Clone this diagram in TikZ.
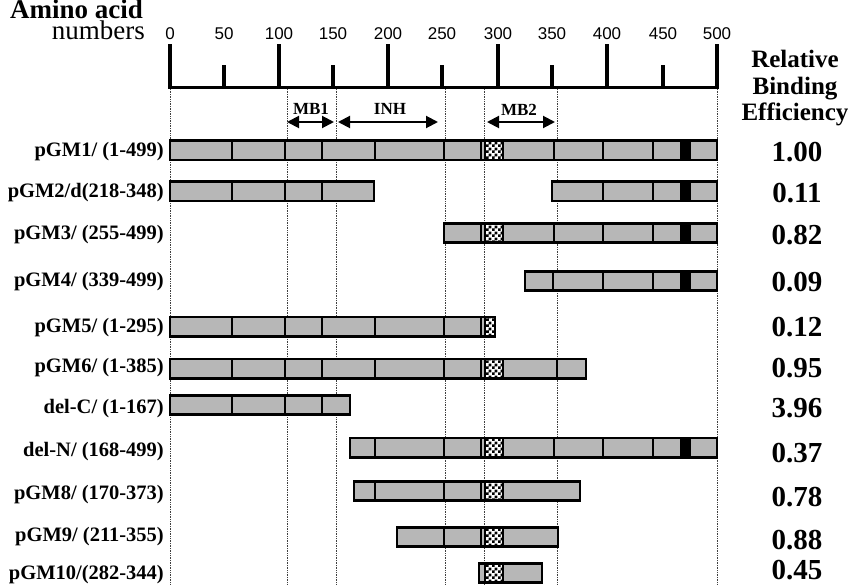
\documentclass[tikz,border=0pt]{standalone}
\usepackage{fontspec}
\setmainfont{Liberation Serif}
\setsansfont{Liberation Sans}
\usetikzlibrary{patterns,arrows.meta}
\definecolor{barfill}{RGB}{183,183,183}
\pgfdeclarepatternformonly{bigchecker}{\pgfpointorigin}{\pgfqpoint{6pt}{6pt}}{\pgfqpoint{6pt}{6pt}}{%
  \pgfpathrectangle{\pgfpointorigin}{\pgfqpoint{3.05pt}{3.05pt}}%
  \pgfpathrectangle{\pgfqpoint{3pt}{3pt}}{\pgfqpoint{3.05pt}{3.05pt}}%
  \pgfusepath{fill}}
\newcommand{\mybar}[3]{\fill[barfill] (#2,#1-9.7) rectangle (#3,#1+9.7);}
\newcommand{\myout}[3]{\draw[barline] (#2,#1-9.7) rectangle (#3,#1+9.7);}
\newcommand{\mydiv}[2]{\foreach \xx in {#2}{\draw[divline] (\xx,#1-9.7) -- (\xx,#1+9.7);}}
\newcommand{\mychk}[3]{\fill[white] (#2,#1-9.7) rectangle (#3,#1+9.7);
  \fill[pattern=bigchecker] (#2,#1-9.7) rectangle (#3,#1+9.7);
  \draw[divline] (#2,#1-9.7) -- (#2,#1+9.7);
  \draw[divline] (#3,#1-9.7) -- (#3,#1+9.7);}
\newcommand{\myblk}[3]{\fill[black] (#2,#1-9.7) rectangle (#3,#1+9.7);}
\begin{document}
\begin{tikzpicture}[x=1pt,y=-1pt,
  axisline/.style={line width=3pt},
  tickline/.style={line width=3.2pt},
  dotline/.style={densely dotted, line width=0.7pt, black!75},
  barline/.style={line width=2.6pt, draw=black},
  divline/.style={line width=1.9pt, draw=black},
  domarrow/.style={line width=2pt, {Triangle[length=12pt,width=12pt]}-{Triangle[length=12pt,width=12pt]}},
  domlbl/.style={anchor=base, inner sep=0, font=\bfseries\fontsize{17}{17}\selectfont},
  axnum/.style={anchor=base, inner sep=0, font=\sffamily\fontsize{17}{17}\selectfont},
  lbl/.style={anchor=east, inner sep=0, font=\bfseries\fontsize{20.5}{20.5}\selectfont},
  val/.style={anchor=center, inner sep=0, font=\bfseries\fontsize{29}{29}\selectfont},
  head/.style={anchor=base, inner sep=0, font=\bfseries\fontsize{25}{25}\selectfont}]
\useasboundingbox (0,0) rectangle (850,585);
\fill[white] (0,0) rectangle (850,585);

% header texts
\node[anchor=base east, inner sep=0, font=\bfseries\fontsize{27}{27}\selectfont] (hamino) at (143,18.5) {Amino acid};
\node[anchor=base east, inner sep=0, font=\fontsize{27}{27}\selectfont] (hnum) at (145,40) {numbers};
\node[head] (hrel) at (795,68) {Relative};
\node[head] (hbind) at (795,95) {Binding};
\node[head] (heff) at (795,121) {Efficiency};

% dotted guide lines
\foreach \gx in {170,287,336,445,484,557,717}{\draw[dotline] (\gx,89) -- (\gx,585);}

% axis
\coordinate (ax0) at (170,88);
\coordinate (ax1) at (717,88);
\draw[axisline] (ax0) -- (ax1);
\foreach \tx/\tl in {170/0,279/100,388/200,498/300,607/400,717/500}{
  \draw[tickline] (\tx,89) -- (\tx,44);
  \node[axnum] at (\tx,40) {\tl};}
\foreach \tx/\tl in {224/50,333/150,442/250,552/350,663/450}{
  \draw[tickline] (\tx,89) -- (\tx,65);
  \node[axnum] at (\tx,40) {\tl};}

% domain arrows
\coordinate (mbAl) at (287,122); \coordinate (mbAr) at (334,122);
\coordinate (inhl) at (338,122); \coordinate (inhr) at (438,122);
\coordinate (mbBl) at (487,122); \coordinate (mbBr) at (555,122);
\draw[domarrow] (mbAl) -- (mbAr);
\draw[domarrow] (inhl) -- (inhr);
\draw[domarrow] (mbBl) -- (mbBr);
\node[domlbl] (tmb1) at (311,115) {MB1};
\node[domlbl] (tinh) at (390,115) {INH};
\node[domlbl] (tmb2) at (519,116) {MB2};

% bars
% pGM1
\mybar{150.5}{170}{717}\mychk{150.5}{485}{503}\myblk{150.5}{680}{691}
\mydiv{150.5}{232,285,322,375,444,481,554,603,653}\myout{150.5}{170}{717}
% pGM2
\mybar{191.5}{170}{374}\mydiv{191.5}{232,285,322}\myout{191.5}{170}{374}
\mybar{191.5}{552}{717}\myblk{191.5}{680}{691}\mydiv{191.5}{603,653}\myout{191.5}{552}{717}
% pGM3
\mybar{233}{444}{717}\mychk{233}{485}{503}\myblk{233}{680}{691}
\mydiv{233}{481,554,603,653}\myout{233}{444}{717}
% pGM4
\mybar{281}{525}{717}\myblk{281}{680}{691}\mydiv{281}{553,603,653}\myout{281}{525}{717}
% pGM5
\mybar{326.5}{170}{495}\mychk{326.5}{485}{495}
\mydiv{326.5}{232,285,322,375,444,481}\myout{326.5}{170}{495}
% pGM6
\mybar{368.5}{170}{586}\mychk{368.5}{485}{503}
\mydiv{368.5}{232,285,322,375,444,481,557}\myout{368.5}{170}{586}
% del-C
\mybar{405}{170}{350}\mydiv{405}{232,285,322}\myout{405}{170}{350}
% del-N
\mybar{447.5}{350}{717}\mychk{447.5}{485}{503}\myblk{447.5}{680}{691}
\mydiv{447.5}{375,444,481,554,603,653}\myout{447.5}{350}{717}
% pGM8
\mybar{491}{354}{580}\mychk{491}{485}{503}\mydiv{491}{375,444,481}\myout{491}{354}{580}
% pGM9
\mybar{537}{397}{558}\mychk{537}{485}{503}\mydiv{537}{444,481}\myout{537}{397}{558}
% pGM10
\mybar{573}{479}{542}\mychk{573}{485}{503}\myout{573}{479}{542}

% row labels
\node[lbl] (l1) at (164,151.5) {pGM1/ (1-499)};
\node[lbl] (l2) at (164,193) {pGM2/d(218-348)};
\node[lbl] (l3) at (164,235) {pGM3/ (255-499)};
\node[lbl] (l4) at (164,281.5) {pGM4/ (339-499)};
\node[lbl] (l5) at (164,327.5) {pGM5/ (1-295)};
\node[lbl] (l6) at (164,368) {pGM6/ (1-385)};
\node[lbl] (l7) at (164,408.5) {del-C/ (1-167)};
\node[lbl] (l8) at (164,451.5) {del-N/ (168-499)};
\node[lbl] (l9) at (164,495) {pGM8/ (170-373)};
\node[lbl] (l10) at (164,537) {pGM9/ (211-355)};
\node[lbl] (l11) at (164,574.5) {pGM10/(282-344)};

% values
\node[val] (v1) at (797,152) {1.00};
\node[val] (v2) at (797,193) {0.11};
\node[val] (v3) at (797,235) {0.82};
\node[val] (v4) at (797,282) {0.09};
\node[val] (v5) at (797,327) {0.12};
\node[val] (v6) at (797,368) {0.95};
\node[val] (v7) at (797,408) {3.96};
\node[val] (v8) at (797,453) {0.37};
\node[val] (v9) at (797,497) {0.78};
\node[val] (v10) at (797,540) {0.88};
\node[val] (v11) at (797,570) {0.45};
\end{tikzpicture}
\end{document}
